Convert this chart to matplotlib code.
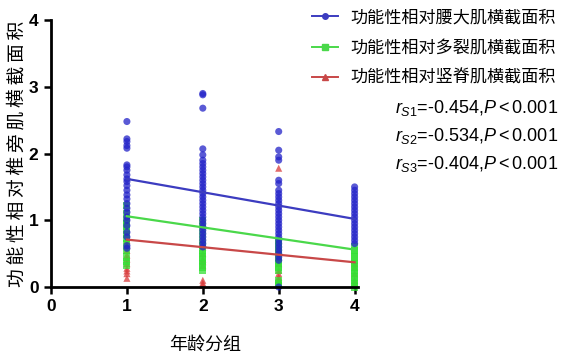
import matplotlib
matplotlib.use("Agg")
import matplotlib.pyplot as plt
from matplotlib.lines import Line2D

plt.rcParams['font.family'] = ['Noto Sans CJK SC', 'DejaVu Sans']
plt.rcParams['mathtext.fontset'] = 'custom'
plt.rcParams['mathtext.it'] = 'Liberation Sans:italic'
plt.rcParams['mathtext.rm'] = 'Liberation Sans'

groups = [1, 2, 3, 4]

# psoas (blue), multifidus (green), erector spinae (red)
psoas = [
    [2.48, 2.22, 2.18, 2.12, 2.08, 1.83, 1.80, 1.75, 1.68, 1.62, 1.58, 1.52, 1.45,
     1.38, 1.32, 1.25, 1.18, 1.12, 1.05, 1.00, 0.92, 0.82, 0.75, 0.62, 0.58],
    [2.90, 2.88, 2.68, 2.07, 1.98, 1.90, 1.85, 1.80, 1.75, 1.70, 1.65, 1.60, 1.55,
     1.50, 1.45, 1.40, 1.35, 1.30, 1.25, 1.20, 1.15, 1.10, 1.05, 1.00, 0.95, 0.90,
     0.85, 0.80, 0.75, 0.70, 0.65, 0.60],
    [2.33, 2.05, 1.95, 1.90, 1.60, 1.55, 1.45, 1.40, 1.35, 1.30, 1.25, 1.20, 1.15,
     1.10, 1.05, 1.00, 0.95, 0.90, 0.85, 0.80, 0.75, 0.70, 0.65, 0.60, 0.55, 0.50,
     0.45, 0.40, 0.00],
    [1.50, 1.45, 1.40, 1.35, 1.30, 1.25, 1.20, 1.15, 1.10, 1.05, 1.00, 0.95, 0.90,
     0.85, 0.80, 0.75, 0.70, 0.65],
]
multifidus = [
    [1.22, 1.10, 1.00, 0.95, 0.90, 0.85, 0.78, 0.72, 0.65, 0.55, 0.45, 0.38, 0.32],
    [1.00, 0.90, 0.80, 0.70, 0.62, 0.55, 0.50, 0.45, 0.40, 0.35, 0.30, 0.25],
    [0.70, 0.65, 0.60, 0.55, 0.50, 0.45, 0.40, 0.35, 0.30, 0.25, 0.10, 0.05, 0.02],
    [0.60, 0.55, 0.50, 0.45, 0.40, 0.35, 0.30, 0.25, 0.20, 0.15, 0.10, 0.05, 0.00],
]
erector = [
    [0.70, 0.62, 0.55, 0.48, 0.42, 0.35, 0.28, 0.24, 0.20, 0.13],
    [0.60, 0.50, 0.42, 0.38, 0.32, 0.10, 0.06, 0.03],
    [1.78, 0.45, 0.35, 0.25, 0.20, 0.15, 0.10, 0.05],
    [0.35, 0.30, 0.20, 0.10, 0.05],
]

# fitted line values at group 1 and group 4
fit_x = [1, 4]
fit_psoas = [1.62, 1.02]
fit_multifidus = [1.06, 0.56]
fit_erector = [0.71, 0.37]

labels = ['功能性相对腰大肌横截面积', '功能性相对多裂肌横截面积', '功能性相对竖脊肌横截面积']
stats = ['$r_{S1}$=-0.454,$P<0.001$', '$r_{S2}$=-0.534,$P<0.001$', '$r_{S3}$=-0.404,$P<0.001$']

c_blue = '#2323c8'
c_green = '#33e033'
c_red = '#d83a3a'

fig = plt.figure(figsize=(5.63, 3.59), dpi=100)
ax = fig.add_axes([0.0906, 0.2006, 0.546, 0.7434])

series = [(erector, c_red, '^'), (multifidus, c_green, 's'), (psoas, c_blue, 'o')]
for data, col, mk in series:
    for g, vals in zip(groups, data):
        ax.scatter([g] * len(vals), vals, s=26, marker=mk, color=col, alpha=0.75,
                   edgecolors='none', zorder=2, clip_on=False)

ax.plot(fit_x, fit_psoas, color='#3c3cc0', lw=1.6, zorder=3)
ax.plot(fit_x, fit_multifidus, color='#4ad84a', lw=1.6, zorder=3)
ax.plot(fit_x, fit_erector, color='#c84848', lw=1.6, zorder=3)

ax.set_xlim(0, 4.05)
ax.set_ylim(0, 4)
ax.set_xticks([0, 1, 2, 3, 4])
ax.set_yticks([0, 1, 2, 3, 4])
for s in ['top', 'right']:
    ax.spines[s].set_visible(False)
for s in ['left', 'bottom']:
    ax.spines[s].set_linewidth(2.0)
ax.tick_params(width=1.8, length=5, direction='out', pad=4)
for t in ax.get_xticklabels() + ax.get_yticklabels():
    t.set_family(['Liberation Sans Narrow', 'Liberation Sans', 'DejaVu Sans'])
    t.set_fontweight('bold')
    t.set_fontsize(12.5)

ax.set_xlabel('年龄分组', fontsize=13, labelpad=15)
ax.set_ylabel('\u2009'.join('功能性相对椎旁肌横截面积'), fontsize=13.5, labelpad=1,
              family=['Noto Sans CJK SC', 'DejaVu Sans'])

handles = [
    Line2D([], [], color='#3c3cc0', marker='o', markersize=4, lw=1.4),
    Line2D([], [], color='#4ad84a', marker='s', markersize=4, lw=1.4),
    Line2D([], [], color='#c84848', marker='^', markersize=4, lw=1.4),
]
fig.legend(handles, labels, loc='upper right', bbox_to_anchor=(1.005, 1.005),
           frameon=False, fontsize=12.3, handlelength=1.5, handletextpad=0.7,
           labelspacing=0.72, borderaxespad=0.2)

for i, txt in enumerate(stats):
    fig.text(0.992, 0.7 - i * 0.078, txt, ha='right', va='center', fontsize=13,
             family=['Liberation Sans', 'Noto Sans CJK SC'])

fig.savefig('out.png', dpi=100)
